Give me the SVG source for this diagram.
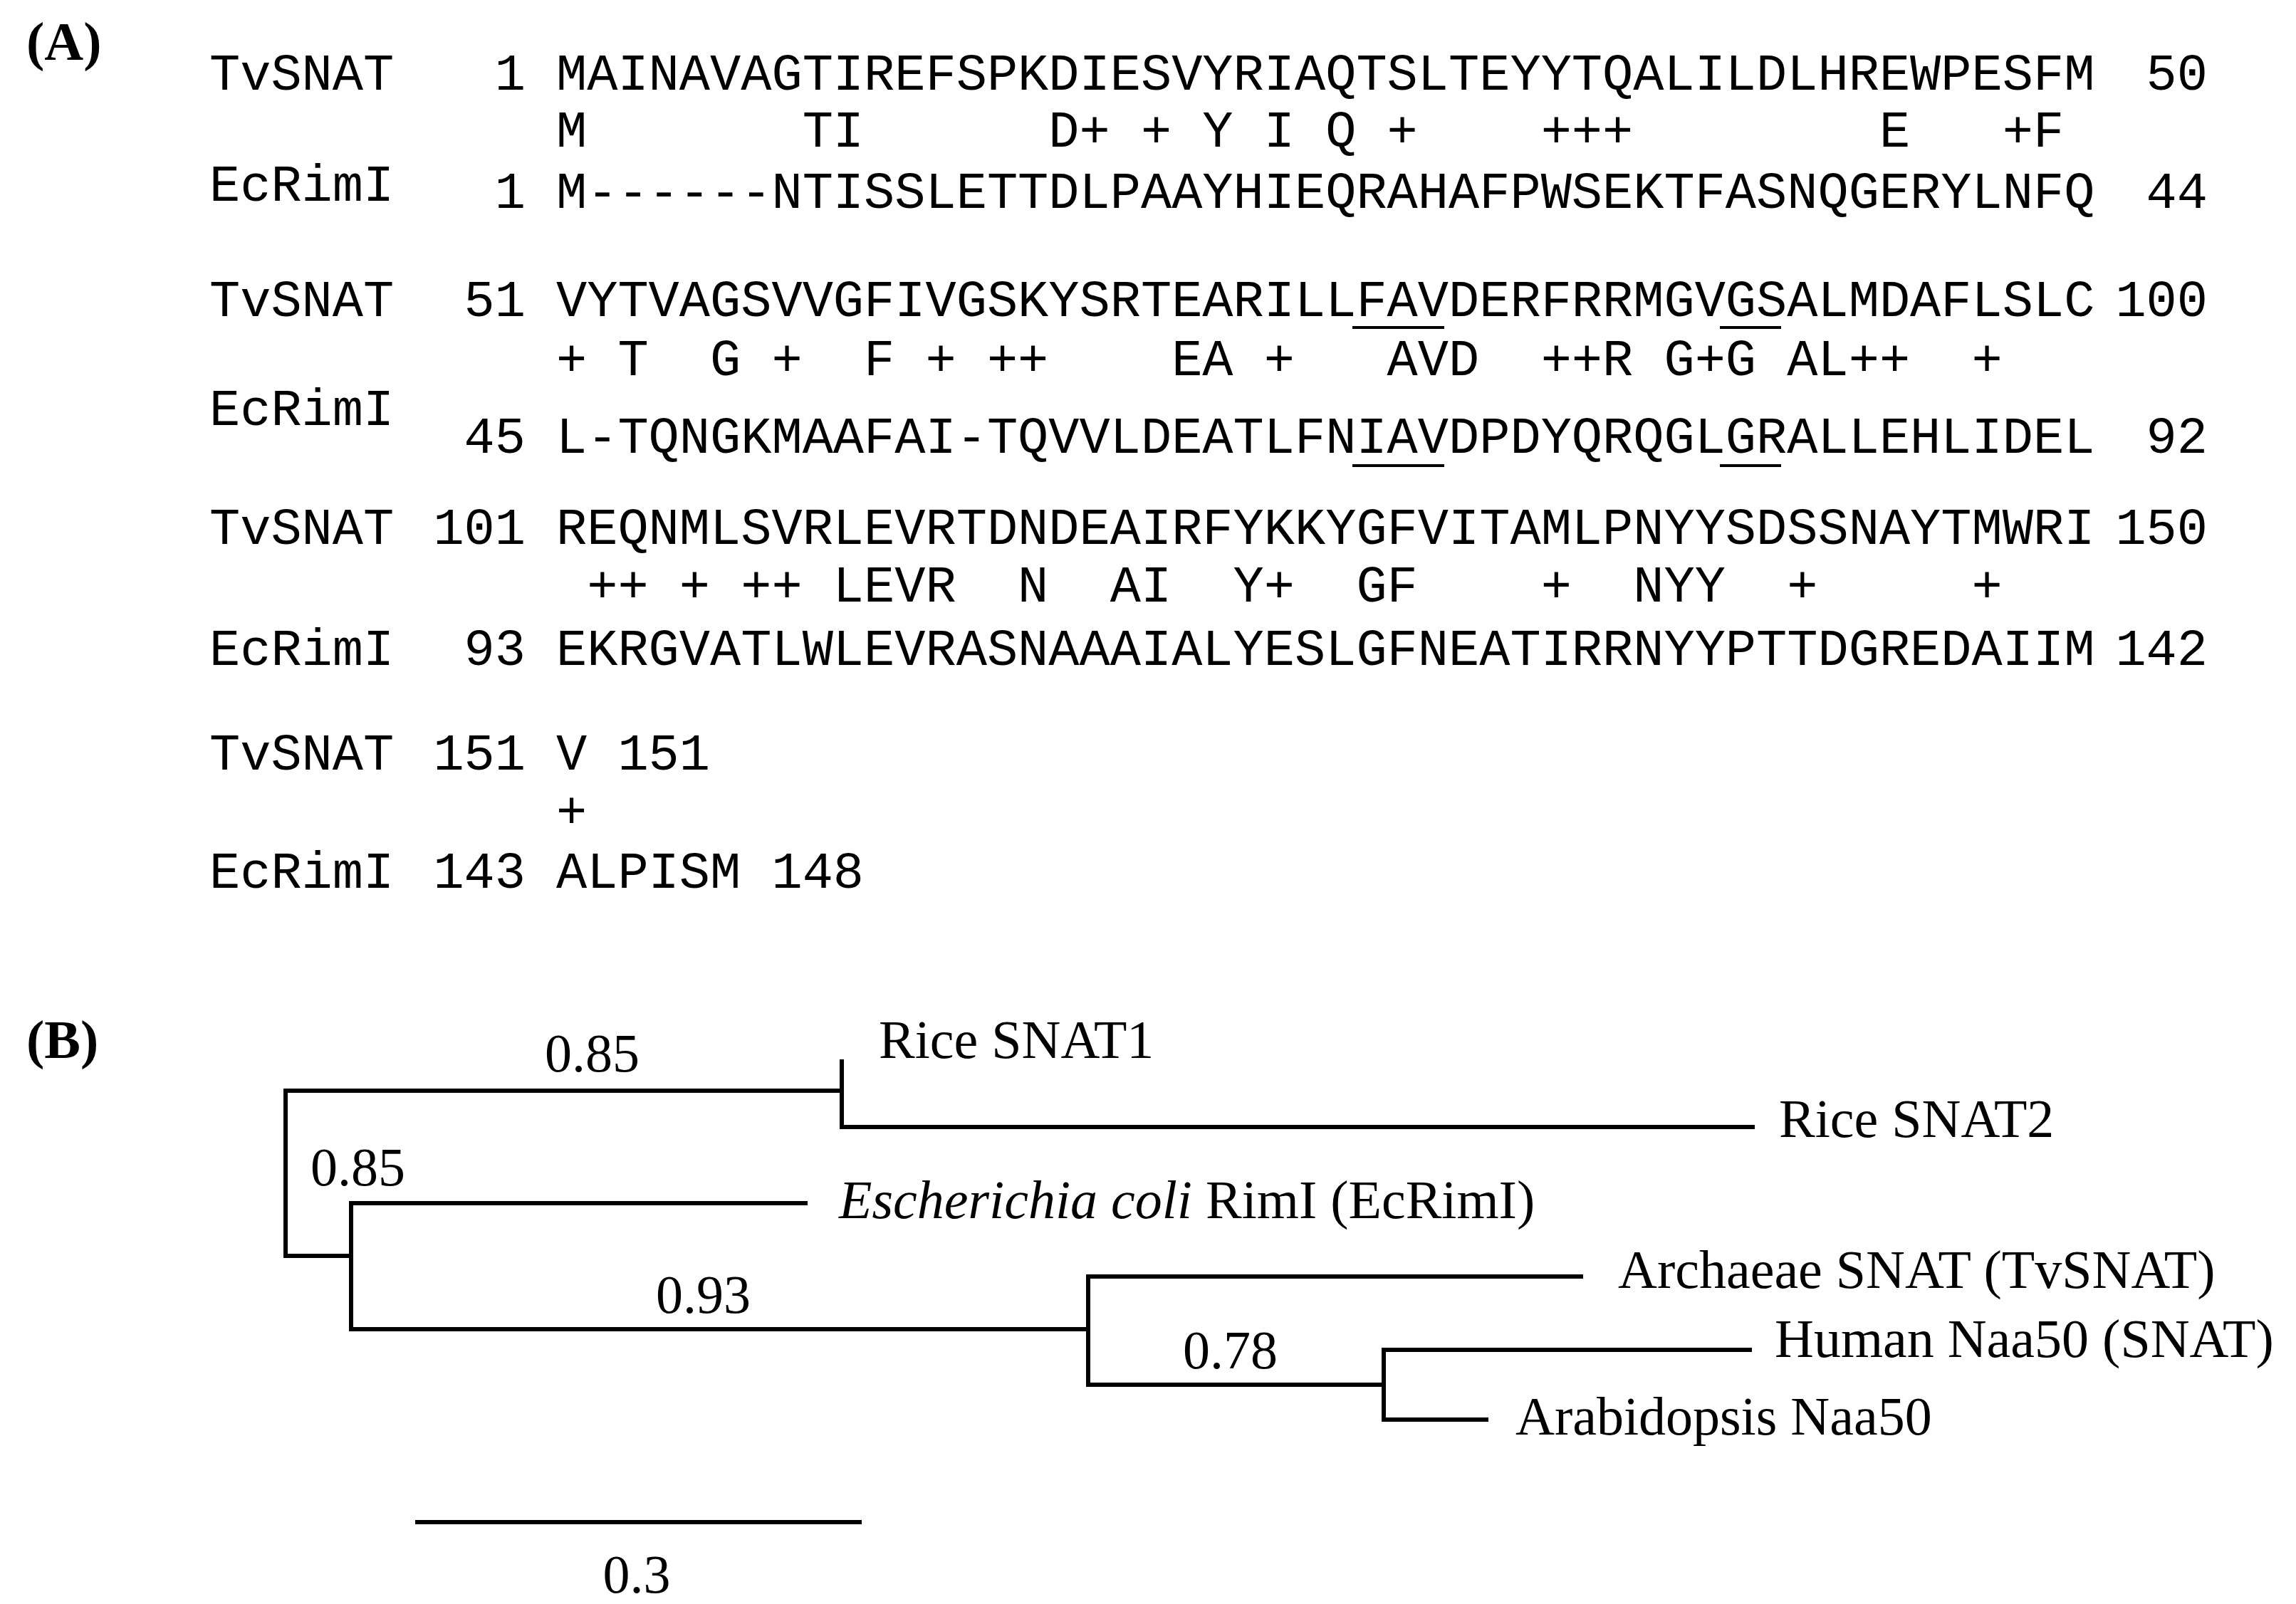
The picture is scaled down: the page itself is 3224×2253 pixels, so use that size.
<svg xmlns="http://www.w3.org/2000/svg" width="3224" height="2253" viewBox="0 0 3224 2253">
<style>
.m{font-family:"Liberation Mono","Courier New",monospace;font-size:72px;fill:#000;white-space:pre}
.e{text-anchor:end}
.s{font-family:"Liberation Serif","Times New Roman",serif;font-size:76px;fill:#000}
.b{font-family:"Liberation Serif","Times New Roman",serif;font-size:76px;font-weight:bold;fill:#000}
.ln{stroke:#000;stroke-width:6;fill:none;stroke-linecap:square}
.ul{stroke:#000;stroke-width:4}
</style>
<rect width="3224" height="2253" fill="#fff"/>
<g id="panelA">
<text class="b" x="37" y="84">(A)</text>
<g id="block1">
<text class="m" x="294" y="126">TvSNAT</text><text class="m e" x="738" y="126">1</text>
<text class="m" x="781" y="126">MAINAVAGTIREFSPKDIESVYRIAQTSLTEYYTQALILDLHREWPESFM</text><text class="m e" x="3100" y="126">50</text>
<text class="m" x="781" y="206">M       TI      D+ + Y I Q +    +++        E   +F</text>
<text class="m" x="294" y="282">EcRimI</text><text class="m e" x="738" y="292">1</text>
<text class="m" x="781" y="292">M------NTISSLETTDLPAAYHIEQRAHAFPWSEKTFASNQGERYLNFQ</text><text class="m e" x="3100" y="292">44</text>
</g>
<g id="block2">
<text class="m" x="294" y="444">TvSNAT</text><text class="m e" x="738" y="444">51</text>
<text class="m" x="781" y="444">VYTVAGSVVGFIVGSKYSRTEARILLFAVDERFRRMGVGSALMDAFLSLC</text><text class="m e" x="3100" y="444">100</text>
<line class="ul" x1="1899" y1="460" x2="2028" y2="460"/><line class="ul" x1="2415" y1="460" x2="2501" y2="460"/>
<text class="m" x="781" y="527">+ T  G +  F + ++    EA +   AVD  ++R G+G AL++  +</text>
<text class="m" x="294" y="597">EcRimI</text><text class="m e" x="738" y="636">45</text>
<text class="m" x="781" y="636">L-TQNGKMAAFAI-TQVVLDEATLFNIAVDPDYQRQGLGRALLEHLIDEL</text><text class="m e" x="3100" y="636">92</text>
<line class="ul" x1="1899" y1="654" x2="2028" y2="654"/><line class="ul" x1="2415" y1="654" x2="2501" y2="654"/>
</g>
<g id="block3">
<text class="m" x="294" y="764">TvSNAT</text><text class="m e" x="738" y="764">101</text>
<text class="m" x="781" y="764">REQNMLSVRLEVRTDNDEAIRFYKKYGFVITAMLPNYYSDSSNAYTMWRI</text><text class="m e" x="3100" y="764">150</text>
<text class="m" x="781" y="845"> ++ + ++ LEVR  N  AI  Y+  GF    +  NYY  +     +</text>
<text class="m" x="294" y="934">EcRimI</text><text class="m e" x="738" y="934">93</text>
<text class="m" x="781" y="934">EKRGVATLWLEVRASNAAAIALYESLGFNEATIRRNYYPTTDGREDAIIM</text><text class="m e" x="3100" y="934">142</text>
</g>
<g id="block4">
<text class="m" x="294" y="1081">TvSNAT</text><text class="m e" x="738" y="1081">151</text>
<text class="m" x="781" y="1081">V 151</text>
<text class="m" x="781" y="1162">+</text>
<text class="m" x="294" y="1247">EcRimI</text><text class="m e" x="738" y="1247">143</text>
<text class="m" x="781" y="1247">ALPISM 148</text>
</g>
</g>
<g id="panelB">
<text class="b" x="37" y="1486">(B)</text>
<g id="connectors">
<path class="ln" d="M401 1532V1764M401 1532H1182M1182 1491V1583M1182 1583H2461M401 1764H493M493 1690V1867M493 1690H1131M493 1867H1528M1528 1793V1945M1528 1793H2220M1528 1945H1943M1943 1896V1994M1943 1896H2457M1943 1994H2087"/>
<line class="ln" x1="586" y1="2138" x2="1207" y2="2138"/>
</g>
<g id="n-rice1"><text class="s" x="1234" y="1486">Rice SNAT1</text></g>
<g id="n-rice2"><text class="s" x="2498" y="1597">Rice SNAT2</text></g>
<g id="n-ecoli"><text class="s" x="1178" y="1711"><tspan font-style="italic">Escherichia coli</tspan> RimI (EcRimI)</text></g>
<g id="n-arch"><text class="s" x="2272" y="1809">Archaeae SNAT (TvSNAT)</text></g>
<g id="n-human"><text class="s" x="2492" y="1906">Human Naa50 (SNAT)</text></g>
<g id="n-arab"><text class="s" x="2128" y="2015">Arabidopsis Naa50</text></g>
<g id="support">
<text class="s" x="765" y="1505">0.85</text>
<text class="s" x="436" y="1665">0.85</text>
<text class="s" x="921" y="1844">0.93</text>
<text class="s" x="1661" y="1922">0.78</text>
<text class="s" x="894" y="2237" text-anchor="middle">0.3</text>
</g>
</g>
</svg>
